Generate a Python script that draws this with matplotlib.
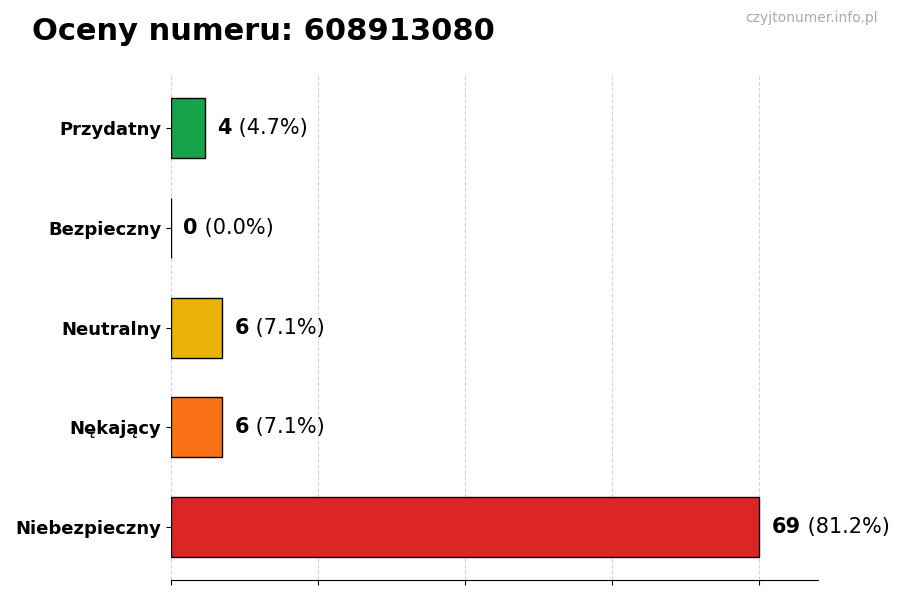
import matplotlib
matplotlib.use('Agg')
import matplotlib.pyplot as plt
import numpy as np

categories = ['Niebezpieczny', 'Nękający', 'Neutralny', 'Bezpieczny', 'Przydatny']
counts = [69, 6, 6, 0, 4]
colors = ['#dc2626', '#f97316', '#eab308', '#9ca3af', '#16a34a']
total = sum(counts)

fig = plt.figure(figsize=(9, 6), dpi=100)
ax = fig.add_axes([0.19, 0.033, 0.719, 0.842])

y = np.arange(len(categories))
ax.barh(y, counts, height=0.6, color=colors, edgecolor='black', linewidth=1, zorder=3)

ax.set_yticks(y)
ax.set_yticklabels(categories, fontsize=13, fontweight='bold')
ax.set_xlim(0, max(counts) * 1.1)
ax.set_xticks(np.linspace(0, max(counts), 5))
ax.set_xticklabels([])
ax.grid(axis='x', linestyle='--', color='#d4d4d4', linewidth=0.8, zorder=0)
for s in ['top', 'right', 'left']:
    ax.spines[s].set_visible(False)

for yi, c in zip(y, counts):
    t = ax.annotate(str(c), xy=(c, yi), xytext=(9, 0), textcoords='offset points',
                    va='center', ha='left', fontsize=15, fontweight='bold')
    ax.annotate(f' ({c / total * 100:.1f}%)', xy=(1, 0.5), xycoords=t,
                va='center', ha='left', fontsize=15)

fig.text(0.035, 0.947, 'Oceny numeru: 608913080', fontsize=22, fontweight='bold',
         ha='left', va='center')
fig.text(0.975, 0.97, 'czyjtonumer.info.pl', fontsize=10, color='#aaaaaa',
         ha='right', va='center')

fig.savefig('out.png', dpi=100)
